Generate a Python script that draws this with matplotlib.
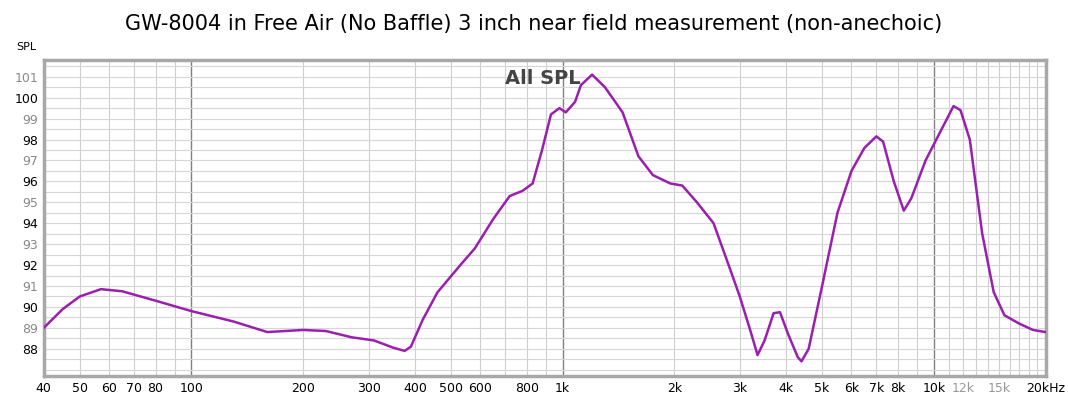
import matplotlib
matplotlib.use("Agg")
import matplotlib.pyplot as plt
from matplotlib.ticker import FixedLocator, NullFormatter

freq = [40,45,50,57,65,80,100,130,160,200,230,270,310,350,375,390,420,460,530,580,650,720,780,830,880,930,980,1020,1080,1120,1200,1300,1450,1600,1750,1950,2100,2300,2550,2800,3000,3200,3350,3500,3700,3850,4050,4300,4400,4600,5000,5500,6000,6500,7000,7300,7800,8300,8700,9500,10500,11300,11800,12500,13500,14500,15500,17000,18500,20000]
spl = [89.0,89.9,90.5,90.85,90.75,90.3,89.8,89.3,88.8,88.9,88.85,88.55,88.4,88.05,87.9,88.1,89.4,90.7,92.0,92.8,94.2,95.3,95.55,95.9,97.5,99.2,99.5,99.3,99.8,100.6,101.1,100.5,99.3,97.2,96.3,95.9,95.8,95.0,94.0,92.0,90.5,88.9,87.7,88.4,89.7,89.75,88.7,87.6,87.4,88.0,91.0,94.5,96.5,97.6,98.15,97.9,96.0,94.6,95.2,97.0,98.5,99.6,99.4,98.0,93.5,90.7,89.6,89.2,88.9,88.8]

xtick_vals = [40,50,60,70,80,100,200,300,400,500,600,800,1000,2000,3000,4000,5000,6000,7000,8000,10000,12000,15000,20000]
xtick_labels = ["40","50","60","70","80","100","200","300","400","500","600","800","1k","2k","3k","4k","5k","6k","7k","8k","10k","12k","15k","20kHz"]
ytick_vals = list(range(88,102))

fig = plt.figure(figsize=(10.68,4.0), dpi=100)
ax = fig.add_axes([0.041,0.06,0.938,0.79])
ax.set_xscale("log")
ax.set_xlim(40,20000)
ax.set_ylim(86.7,101.8)

minor = []
for d in [10,100,1000,10000]:
    for m in range(2,10):
        v = d*m
        if 40 <= v <= 20000:
            minor.append(v)
for v in [11000,12000,13000,14000,15000,16000,17000,18000,19000]:
    minor.append(v)
for v in minor:
    ax.axvline(v, color="#cfcfcf", lw=0.8, zorder=0)
for v in [100,1000,10000]:
    ax.axvline(v, color="#808080", lw=1.0, zorder=0)
y = 87.0
while y < 101.8:
    ax.axhline(y, color="#d6d6d6", lw=0.8, zorder=0)
    y += 0.5

ax.plot(freq, spl, color="#9b1fae", lw=1.8, zorder=3)

ax.xaxis.set_minor_formatter(NullFormatter())
ax.xaxis.set_minor_locator(FixedLocator([]))
ax.set_xticks(xtick_vals)
ax.set_xticklabels(xtick_labels, fontsize=9)
for lab, v in zip(ax.get_xticklabels(), xtick_vals):
    if v in (12000, 15000):
        lab.set_color("#999999")
ax.set_yticks(ytick_vals)
ax.set_yticklabels([str(v) for v in ytick_vals], fontsize=9)
for lab, v in zip(ax.get_yticklabels(), ytick_vals):
    lab.set_color("#000000" if v % 2 == 0 else "#888888")
ax.tick_params(length=0, pad=4)
for s in ax.spines.values():
    s.set_color("#a8a8a8"); s.set_linewidth(2.5)

fig.text(0.5, 0.94, "GW-8004 in Free Air (No Baffle) 3 inch near field measurement (non-anechoic)",
         ha="center", va="center", fontsize=15)
fig.text(0.015, 0.875, "SPL", fontsize=8)
ax.text(885, 100.9, "All SPL", ha="center", va="center", fontsize=14, fontweight="bold", color="#444444")
fig.savefig("out.png", dpi=100)
